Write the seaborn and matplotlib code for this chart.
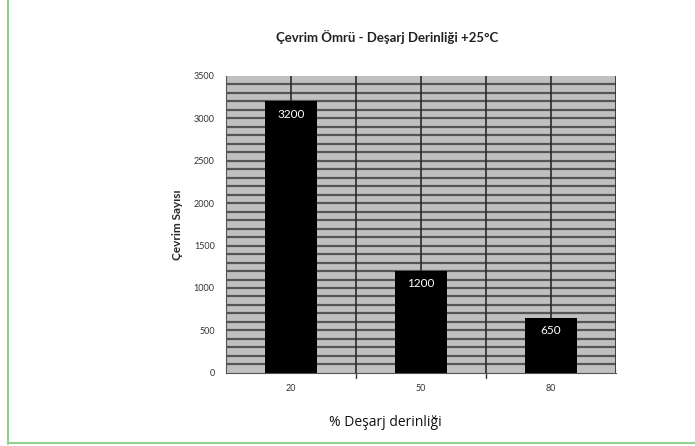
import seaborn as sns
import matplotlib.pyplot as plt
import numpy as np
import pandas as pd

# chart data
depth = ["20", "50", "80"]
cycles = [3200, 1200, 650]

df = pd.DataFrame({"depth": depth, "cycles": cycles})

sns.set_style("white")
plt.rcParams["font.family"] = ["Lato", "DejaVu Sans"]

fig = plt.figure(figsize=(6.95, 4.46), dpi=100)
ax = fig.add_axes([0.325, 0.164, 0.561, 0.666])
ax.set_facecolor("#c0c0c0")

sns.barplot(data=df, x="depth", y="cycles", color="black", width=0.4,
            saturation=1, edgecolor="black", linewidth=0, ax=ax, zorder=3)

ax.set_ylim(0, 3500)
ax.set_xlim(-0.5, 2.5)

# dense horizontal grid every 100, vertical lines at halves
for y in np.arange(100, 3500, 100):
    ax.axhline(y, color="#555555", lw=1.6, zorder=1)
for x in np.arange(0, 2.6, 0.5):
    ax.axvline(x, color="#2a2a2a", lw=1.2, zorder=2)

ax.set_yticks(np.arange(0, 3501, 500))
ax.set_xticks(range(len(depth)))
ax.set_xticklabels(depth)
ax.tick_params(axis="both", labelsize=6.5, colors="#333333", length=0, pad=8)
ax.tick_params(axis="y", length=4, direction="out", pad=4)

# small outward ticks at category boundaries
for x in [0.5, 1.5]:
    ax.plot([x, x], [0, -60], color="#333333", lw=1, clip_on=False)

for s in ["top", "right"]:
    ax.spines[s].set_visible(False)
ax.spines["left"].set_color("#555555")
ax.spines["bottom"].set_color("#555555")

for i, v in enumerate(cycles):
    ax.text(i, v - 150, str(v), color="white", ha="center", va="center",
            fontsize=8.5, zorder=4)

ax.set_xlabel("")
ax.set_ylabel("Çevrim Sayısı", fontsize=8.5, fontweight="bold", labelpad=8)

fig.text(0.557, 0.917, "Çevrim Ömrü - Deşarj Derinliği +25°C", ha="center",
         va="center", fontsize=9.5, fontweight="bold", color="#222222")
fig.text(0.554, 0.052, "% Deşarj derinliği", ha="center", va="center",
         fontsize=10, family=["Open Sans", "DejaVu Sans"], color="#111111")

# green frame on left and bottom
fig.add_artist(plt.Line2D([0.0115, 0.0115], [0.005, 1], color="#8fd18f", lw=1.5))
fig.add_artist(plt.Line2D([0.0115, 1], [0.007, 0.007], color="#8fd18f", lw=1.5))

plt.savefig("out.png", dpi=100)
